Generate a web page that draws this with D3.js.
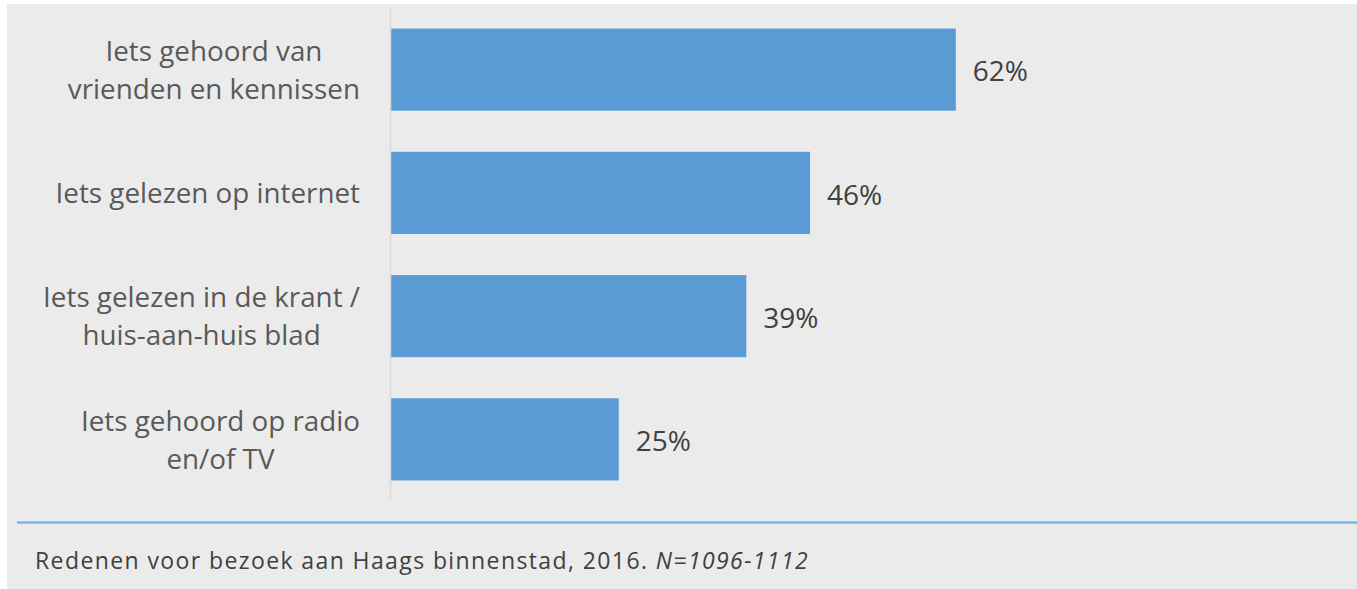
<!DOCTYPE html>
<html>
<head>
<meta charset="utf-8">
<script src="https://cdn.jsdelivr.net/npm/d3@7"></script>
<style>
  body { margin: 0; background: #fff; }
  svg text { font-family: "Open Sans", sans-serif; }
</style>
</head>
<body>
<div id="graf"></div>
<script>
// data
const categorias = [
  "Iets gehoord van vrienden en kennissen",
  "Iets gelezen op internet",
  "Iets gelezen in de krant / huis-aan-huis blad",
  "Iets gehoord op radio en/of TV"
]
const regels = [
  ["Iets gehoord van", "vrienden en kennissen"],
  ["Iets gelezen op internet"],
  ["Iets gelezen in de krant /", "huis-aan-huis blad"],
  ["Iets gehoord op radio", "en/of TV"]
]
const waarden = [0.62, 0.46, 0.39, 0.25]
const bron = "Redenen voor bezoek aan Haags binnenstad, 2016. "
const bronN = "N=1096-1112"

const anchoTotal = 1357
const altoTotal = 589

const svg = d3.select("#graf")
  .append("svg")
  .attr("width", anchoTotal)
  .attr("height", altoTotal)

svg.append("rect")
  .attr("x", 7).attr("y", 4)
  .attr("width", anchoTotal - 7).attr("height", altoTotal - 4)
  .attr("fill", "#ebebeb")

const x = d3.scaleLinear().domain([0, 1]).range([391, 1302])
const y = d3.scaleBand().domain(categorias).range([8, 501]).paddingInner(1 / 3).paddingOuter(1 / 6)

// bars
svg.selectAll("rect.bar")
  .data(waarden)
  .enter()
  .append("rect")
  .attr("class", "bar")
  .attr("x", x(0))
  .attr("y", (d, i) => y(categorias[i]))
  .attr("width", d => x(d) - x(0))
  .attr("height", y.bandwidth())
  .attr("fill", "#5b9bd5")

// axis line
svg.append("line")
  .attr("x1", x(0) - 0.5).attr("x2", x(0) - 0.5)
  .attr("y1", 9).attr("y2", 500)
  .attr("stroke", "#d9d9d9")
  .attr("stroke-width", 1.5)

// value labels
svg.selectAll("text.valor")
  .data(waarden)
  .enter()
  .append("text")
  .attr("class", "valor")
  .attr("x", d => x(d) + 17)
  .attr("y", (d, i) => y(categorias[i]) + y.bandwidth() / 2)
  .attr("dy", "0.42em")
  .attr("font-size", 28)
  .attr("fill", "#404040")
  .text(d => Math.round(d * 100) + "%")

// category labels, block centered and right aligned to 360
const lineH = 38
regels.forEach((lns, i) => {
  const cy = y(categorias[i]) + y.bandwidth() / 2
  const t = svg.append("text")
    .attr("font-size", 27.8)
    .attr("fill", "#595959")
    .attr("text-anchor", "middle")
  lns.forEach((l, j) => {
    t.append("tspan")
      .attr("y", cy + (j - (lns.length - 1) / 2) * lineH)
      .attr("dy", "0.37em")
      .text(l)
  })
  let maxW = 0
  t.selectAll("tspan").each(function () { maxW = Math.max(maxW, this.getComputedTextLength()) })
  t.selectAll("tspan").attr("x", 360 - maxW / 2)
})

// footer
svg.append("line")
  .attr("x1", 17).attr("x2", anchoTotal)
  .attr("y1", 522.5).attr("y2", 522.5)
  .attr("stroke", "#6fa8dc")
  .attr("stroke-width", 2)

const pie = svg.append("text")
  .attr("x", 35).attr("y", 569)
  .attr("font-size", 23)
  .attr("letter-spacing", 1.4)
  .attr("fill", "#404040")
pie.append("tspan").text(bron)
pie.append("tspan").attr("font-style", "italic").text(bronN)
</script>
</body>
</html>
